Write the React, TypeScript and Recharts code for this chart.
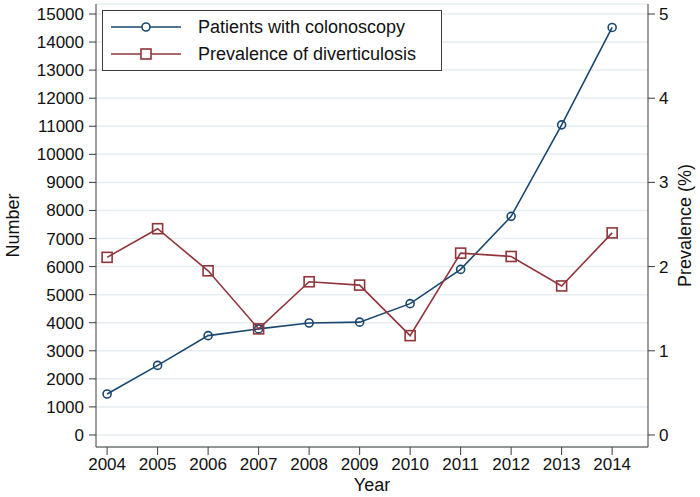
import * as React from "react";
import { CartesianGrid, Label, Legend, Line, LineChart, XAxis, YAxis } from "recharts";

const YEARS = [2004, 2005, 2006, 2007, 2008, 2009, 2010, 2011, 2012, 2013, 2014];
const PATIENTS = [1460, 2480, 3540, 3780, 3990, 4020, 4680, 5900, 7790, 11050, 14520];
const PREVALENCE = [2.11, 2.45, 1.95, 1.26, 1.82, 1.78, 1.18, 2.16, 2.12, 1.77, 2.4];
const NUMBER_TICKS = [0, 1000, 2000, 3000, 4000, 5000, 6000, 7000, 8000, 9000, 10000, 11000, 12000, 13000, 14000, 15000];
const PREV_TICKS = [0, 1, 2, 3, 4, 5];

const BLUE = "#1a476f";
const RED = "#90353b";
const AXIS_COLOR = "#3c3c3c";
const FONT = "'Liberation Sans', Arial, sans-serif";

const data = YEARS.map((year, i) => ({ year, patients: PATIENTS[i], prevalence: PREVALENCE[i] }));

const TICK = { fill: "#111", fontSize: 17, fontFamily: FONT };

function SquareDot({ cx, cy }: any) {
  if (cx == null || cy == null) return null;
  return <rect x={cx - 5} y={cy - 5} width={10} height={10} fill="none" stroke={RED} strokeWidth={1.6} />;
}

function LegendBox() {
  return (
    <div
      style={{
        position: "absolute",
        left: 102,
        top: 10,
        width: 338,
        height: 59,
        border: `1px solid ${AXIS_COLOR}`,
        background: "#fff",
        fontFamily: FONT,
        fontSize: 18,
        color: "#111",
      }}
    >
      {[
        { name: "Patients with colonoscopy", color: BLUE, square: false },
        { name: "Prevalence of diverticulosis", color: RED, square: true },
      ].map((item, i) => (
        <div key={i} style={{ position: "absolute", left: 7, top: 5 + i * 27, height: 22, display: "flex", alignItems: "center" }}>
          <svg width={72} height={22}>
            <line x1={1} y1={11} x2={71} y2={11} stroke={item.color} strokeWidth={1.6} />
            {item.square ? (
              <rect x={31} y={6} width={10} height={10} fill="#fff" stroke={item.color} strokeWidth={1.6} />
            ) : (
              <circle cx={36} cy={11} r={4} fill="#fff" stroke={item.color} strokeWidth={1.6} />
            )}
          </svg>
          <span style={{ marginLeft: 16 }}>{item.name}</span>
        </div>
      ))}
    </div>
  );
}

function VTitle({ viewBox, value, dx }: any) {
  const { x, y, height } = viewBox;
  const cx = x + dx;
  const cy = y + height / 2;
  return (
    <text
      x={cx}
      y={cy}
      transform={`rotate(-90, ${cx}, ${cy})`}
      textAnchor="middle"
      dominantBaseline="central"
      fill="#111"
      fontSize={18}
      fontFamily={FONT}
    >
      {value}
    </text>
  );
}

export default function App() {
  return (
    <div style={{ position: "absolute", left: 0, top: 0, width: 700, height: 497, background: "#fff" }}>
      <LineChart width={700} height={497} data={data} margin={{ top: 4, right: 0, left: 0, bottom: 0 }}>
        <CartesianGrid yAxisId="left" vertical={false} stroke="#e6eef1" strokeWidth={1.5} />
        <XAxis
          dataKey="year"
          type="number"
          domain={[2003.78, 2014.71]}
          ticks={YEARS}
          allowDataOverflow
          height={50}
          tickSize={8}
          tickMargin={3}
          tick={TICK}
          stroke={AXIS_COLOR}
          tickLine={{ stroke: AXIS_COLOR }}
          interval={0}
        >
          <Label value="Year" position="insideBottom" offset={6} fill="#111" fontSize={18} fontFamily={FONT} />
        </XAxis>
        <YAxis
          yAxisId="left"
          width={96}
          domain={[-428, 15356]}
          ticks={NUMBER_TICKS}
          allowDataOverflow
          interval={0}
          tickSize={7}
          tickMargin={5}
          tick={TICK}
          stroke={AXIS_COLOR}
        >
          <Label content={(p: any) => <VTitle {...p} value="Number" dx={13} />} />
        </YAxis>
        <YAxis
          yAxisId="right"
          orientation="right"
          width={52}
          domain={[-0.1427, 5.1187]}
          ticks={PREV_TICKS}
          allowDataOverflow
          interval={0}
          tickSize={7}
          tickMargin={4}
          tick={TICK}
          stroke={AXIS_COLOR}
        >
          <Label content={(p: any) => <VTitle {...p} value="Prevalence (%)" dx={37} />} />
        </YAxis>
        <Legend content={() => <LegendBox />} wrapperStyle={{ position: "absolute", left: 0, top: 0, width: 0, height: 0 }} />
        <Line
          yAxisId="left"
          dataKey="patients"
          name="Patients with colonoscopy"
          stroke={BLUE}
          strokeWidth={1.6}
          dot={{ r: 4, fill: "none", stroke: BLUE, strokeWidth: 1.6 }}
          isAnimationActive={false}
        />
        <Line
          yAxisId="right"
          dataKey="prevalence"
          name="Prevalence of diverticulosis"
          stroke={RED}
          strokeWidth={1.6}
          dot={<SquareDot />}
          isAnimationActive={false}
        />
      </LineChart>
    </div>
  );
}
